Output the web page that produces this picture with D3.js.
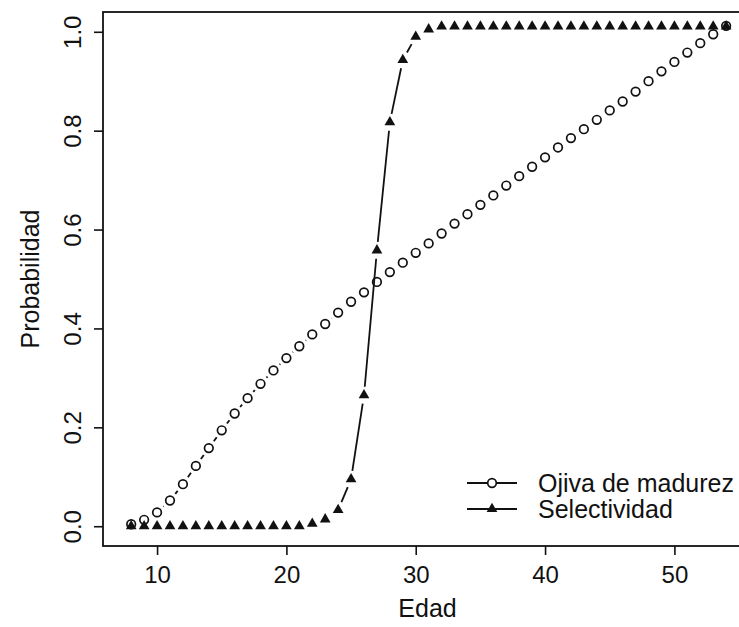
<!DOCTYPE html>
<html>
<head>
<meta charset="utf-8">
<script src="https://cdn.jsdelivr.net/npm/d3@7"></script>
<style>
  body { margin: 0; background: #fff; }
  text { font-family: "Liberation Sans", Arial, Helvetica, sans-serif; fill: #111; }
  .axis text { font-size: 24px; }
  .axis line { stroke: #111; stroke-width: 1.6px; }
  .axis-label { font-size: 25px; }
  .legend-text { font-size: 25px; }
</style>
</head>
<body>
<div id="chart"></div>
<script>
// Edad (age) of each point
const ages = [8, 9, 10, 11, 12, 13, 14, 15, 16, 17, 18, 19, 20, 21, 22, 23, 24, 25, 26, 27,
    28, 29, 30, 31, 32, 33, 34, 35, 36, 37, 38, 39, 40, 41, 42, 43, 44, 45, 46, 47,
    48, 49, 50, 51, 52, 53, 54];

// Ojiva de madurez (open circles)
const ojiva = [0.004, 0.013, 0.028, 0.052, 0.085, 0.122, 0.158, 0.194, 0.228, 0.259,
    0.288, 0.315, 0.340, 0.364, 0.388, 0.409, 0.432, 0.454, 0.473, 0.494,
    0.514, 0.533, 0.553, 0.572, 0.592, 0.612, 0.631, 0.650, 0.669, 0.689,
    0.708, 0.727, 0.746, 0.766, 0.785, 0.803, 0.822, 0.841, 0.859, 0.879,
    0.900, 0.920, 0.939, 0.958, 0.977, 0.995, 1.012];

// Selectividad (filled triangles)
const selectividad = [0, 0, 0, 0, 0, 0, 0, 0, 0, 0,
    0, 0, 0, 0, 0.005, 0.014, 0.033, 0.095, 0.265, 0.558,
    0.817, 0.943, 0.990, 1.005, 1.011, 1.011, 1.011, 1.011, 1.011, 1.011,
    1.011, 1.011, 1.011, 1.011, 1.011, 1.011, 1.011, 1.011, 1.011, 1.011,
    1.011, 1.011, 1.011, 1.011, 1.011, 1.011, 1.011];

const xTicks = [10, 20, 30, 40, 50];
const yTicks = [0, 0.2, 0.4, 0.6, 0.8, 1.0];
const legendLabels = ["Ojiva de madurez", "Selectividad"];

class ProbabilityChart {
    constructor(parentElement) {
        this.parentElement = parentElement;
        this.initVis();
    }

    initVis() {
        let vis = this;

        vis.width = 739;
        vis.height = 627;
        // plot box (right side runs off the page, like the reference)
        vis.box = { left: 103, right: 752, top: 12, bottom: 546 };

        vis.svg = d3.select("#" + vis.parentElement)
            .append("svg")
            .attr("width", vis.width)
            .attr("height", vis.height);

        // Scales, with R-style 4% padding
        vis.x = d3.scaleLinear().domain([5.82, 56]).range([vis.box.left, vis.box.right]);
        vis.y = d3.scaleLinear().domain([-0.04, 1.04]).range([vis.box.bottom, vis.box.top]);

        vis.xAxis = d3.axisBottom(vis.x).tickValues(xTicks).tickSize(9)
            .tickFormat(d3.format("d"));
        vis.yAxis = d3.axisLeft(vis.y).tickValues(yTicks).tickSize(9)
            .tickFormat(d3.format(".1f"));

        vis.gap = 8.5; // gap around points for type "b" lines

        vis.updateVis();
    }

    updateVis() {
        let vis = this;

        // Axes
        let gx = vis.svg.append("g")
            .attr("class", "axis x-axis")
            .attr("transform", `translate(0,${vis.box.bottom})`)
            .call(vis.xAxis);
        gx.select(".domain").remove();
        gx.selectAll("text").attr("y", 37).attr("dy", 0);

        let gy = vis.svg.append("g")
            .attr("class", "axis y-axis")
            .attr("transform", `translate(${vis.box.left},0)`)
            .call(vis.yAxis);
        gy.select(".domain").remove();
        gy.selectAll("text")
            .attr("text-anchor", "middle")
            .attr("dy", 0)
            .attr("x", 0)
            .attr("y", 0)
            .attr("transform", "translate(-31,0) rotate(-90)")
            .attr("dominant-baseline", "central");

        // Box
        vis.svg.append("rect")
            .attr("x", vis.box.left)
            .attr("y", vis.box.top)
            .attr("width", vis.box.right - vis.box.left)
            .attr("height", vis.box.bottom - vis.box.top)
            .attr("fill", "none")
            .attr("stroke", "#111")
            .attr("stroke-width", 1.8);

        // Axis titles
        vis.svg.append("text")
            .attr("class", "axis-label")
            .attr("x", (vis.box.left + vis.box.right) / 2)
            .attr("y", 617)
            .attr("text-anchor", "middle")
            .text("Edad");

        vis.svg.append("text")
            .attr("class", "axis-label")
            .attr("transform", `translate(30,${(vis.box.top + vis.box.bottom) / 2}) rotate(-90)`)
            .attr("text-anchor", "middle")
            .attr("dominant-baseline", "central")
            .text("Probabilidad");

        let ojivaPts = ages.map((a, i) => [vis.x(a), vis.y(ojiva[i])]);
        let selPts = ages.map((a, i) => [vis.x(a), vis.y(selectividad[i])]);

        vis.drawGappedLine(ojivaPts);
        vis.drawGappedLine(selPts);

        // Circles
        vis.svg.append("g").selectAll("circle")
            .data(ojivaPts)
            .enter().append("circle")
            .attr("cx", d => d[0]).attr("cy", d => d[1])
            .attr("r", 4.3)
            .attr("fill", "none")
            .attr("stroke", "#111")
            .attr("stroke-width", 1.7);

        // Triangles
        let tri = d3.symbol().type(d3.symbolTriangle).size(50);
        vis.svg.append("g").selectAll("path")
            .data(selPts)
            .enter().append("path")
            .attr("d", tri)
            .attr("transform", d => `translate(${d[0]},${d[1]})`)
            .attr("fill", "#111");

        // Legend
        let legend = vis.svg.append("g").attr("class", "legend");
        let rows = [483, 509];
        legend.selectAll("line")
            .data(rows)
            .enter().append("line")
            .attr("x1", 467).attr("x2", 517)
            .attr("y1", d => d).attr("y2", d => d)
            .attr("stroke", "#111").attr("stroke-width", 1.8);
        legend.append("circle")
            .attr("cx", 492).attr("cy", rows[0]).attr("r", 4.3)
            .attr("fill", "#fff").attr("stroke", "#111").attr("stroke-width", 1.7);
        legend.append("path")
            .attr("d", tri)
            .attr("transform", `translate(492,${rows[1]})`)
            .attr("fill", "#111");
        legend.selectAll("text")
            .data(legendLabels)
            .enter().append("text")
            .attr("class", "legend-text")
            .attr("x", 538)
            .attr("y", (d, i) => rows[i])
            .attr("dominant-baseline", "central")
            .text(d => d);
    }

    // Lines between points, cut short near each point (R type "b")
    drawGappedLine(pts) {
        let vis = this;
        let segs = [];
        for (let i = 0; i < pts.length - 1; i++) {
            let [x1, y1] = pts[i];
            let [x2, y2] = pts[i + 1];
            let len = Math.hypot(x2 - x1, y2 - y1);
            if (len <= 2 * vis.gap) continue;
            let ux = (x2 - x1) / len, uy = (y2 - y1) / len;
            segs.push([[x1 + ux * vis.gap, y1 + uy * vis.gap], [x2 - ux * vis.gap, y2 - uy * vis.gap]]);
        }
        vis.svg.append("g").selectAll("path")
            .data(segs)
            .enter().append("path")
            .attr("d", d3.line())
            .attr("fill", "none")
            .attr("stroke", "#111")
            .attr("stroke-width", 1.8);
    }
}

new ProbabilityChart("chart");
</script>
</body>
</html>
